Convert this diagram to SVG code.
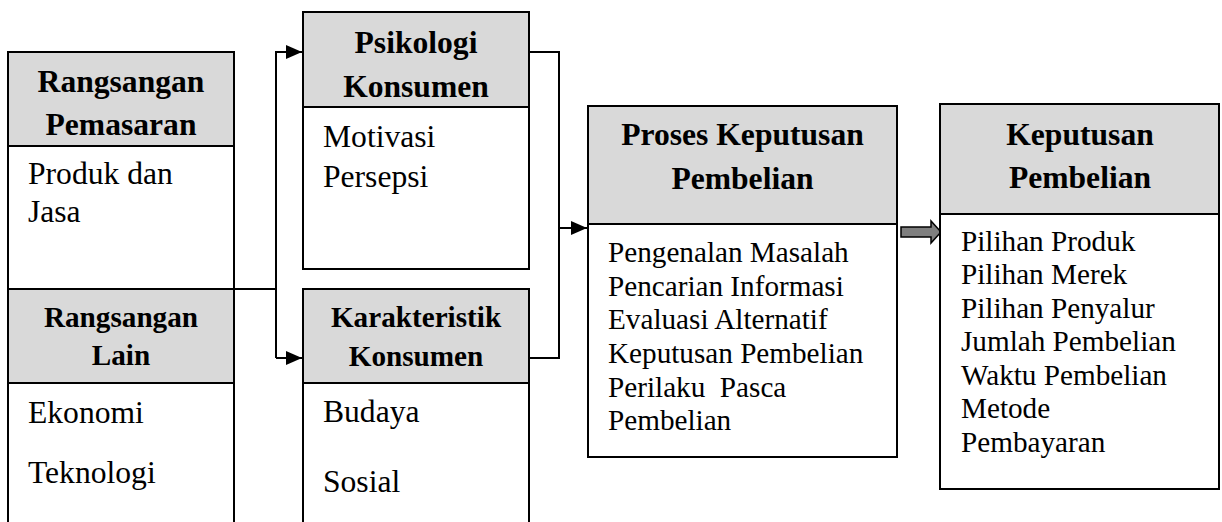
<svg xmlns="http://www.w3.org/2000/svg" width="1222" height="522" viewBox="0 0 1222 522">
<style>
.box{fill:#ffffff;stroke:#000000;stroke-width:2}
.hdr{fill:#d9d9d9;stroke:#000000;stroke-width:2}
.t{font-family:"Liberation Serif","Times New Roman",serif;fill:#000000}
.h{font-weight:bold;text-anchor:middle}
.big{font-size:31.6px}
.sm{font-size:29.2px}
.con{fill:none;stroke:#000000;stroke-width:2}
</style>
<defs>
<marker id="ah" markerUnits="userSpaceOnUse" markerWidth="16" markerHeight="14" refX="16" refY="7" orient="auto">
<path d="M0,0 L16,7 L0,14 z" fill="#000000"/>
</marker>
</defs>
<rect x="0" y="0" width="1222" height="522" fill="#ffffff"/>
<g id="connectors">
<path class="con" d="M234,289 H276"/>
<path class="con" d="M276,358 V52 H302" marker-end="url(#ah)"/>
<path class="con" d="M276,358 H302" marker-end="url(#ah)"/>
<path class="con" d="M529,52 H559 V358 H529"/>
<path class="con" d="M559,228 H587" marker-end="url(#ah)"/>
<polygon points="901,227 931,227 931,221 941,232 931,243 931,237 901,237" fill="#7f7f7f" stroke="#000000" stroke-width="1.5"/>
</g>
<g id="rangsangan-pemasaran">
<rect class="box" x="8" y="52" width="226" height="237"/>
<rect class="hdr" x="8" y="52" width="226" height="94"/>
<text class="t h big" x="121" y="92">Rangsangan</text>
<text class="t h big" x="121" y="135">Pemasaran</text>
<text class="t big" x="28" y="184">Produk dan</text>
<text class="t big" x="28" y="222">Jasa</text>
</g>
<g id="rangsangan-lain">
<rect class="box" x="8" y="289" width="226" height="250"/>
<rect class="hdr" x="8" y="289" width="226" height="94"/>
<text class="t h sm" x="121" y="327">Rangsangan</text>
<text class="t h sm" x="121" y="365">Lain</text>
<text class="t big" x="28" y="423">Ekonomi</text>
<text class="t big" x="28" y="483">Teknologi</text>
</g>
<g id="psikologi-konsumen">
<rect class="box" x="303" y="12" width="226" height="257"/>
<rect class="hdr" x="303" y="12" width="226" height="95"/>
<text class="t h big" x="416" y="53">Psikologi</text>
<text class="t h big" x="416" y="97">Konsumen</text>
<text class="t big" x="323" y="147">Motivasi</text>
<text class="t big" x="323" y="187">Persepsi</text>
</g>
<g id="karakteristik-konsumen">
<rect class="box" x="303" y="289" width="226" height="250"/>
<rect class="hdr" x="303" y="289" width="226" height="94"/>
<text class="t h sm" x="416" y="327">Karakteristik</text>
<text class="t h sm" x="416" y="366">Konsumen</text>
<text class="t big" x="323" y="422">Budaya</text>
<text class="t big" x="323" y="492">Sosial</text>
</g>
<g id="proses-keputusan-pembelian">
<rect class="box" x="588" y="106" width="309" height="351"/>
<rect class="hdr" x="588" y="106" width="309" height="118"/>
<text class="t h big" x="742.5" y="145">Proses Keputusan</text>
<text class="t h big" x="742.5" y="189">Pembelian</text>
<text class="t sm" x="608" y="262">Pengenalan Masalah</text>
<text class="t sm" x="608" y="295.5">Pencarian Informasi</text>
<text class="t sm" x="608" y="329">Evaluasi Alternatif</text>
<text class="t sm" x="608" y="363">Keputusan Pembelian</text>
<text class="t sm" x="608" y="397">Perilaku&#160; Pasca</text>
<text class="t sm" x="608" y="430">Pembelian</text>
</g>
<g id="keputusan-pembelian">
<rect class="box" x="940" y="104" width="279" height="385"/>
<rect class="hdr" x="940" y="104" width="279" height="110"/>
<text class="t h big" x="1080" y="145">Keputusan</text>
<text class="t h big" x="1080" y="188">Pembelian</text>
<text class="t sm" x="961" y="250.5">Pilihan Produk</text>
<text class="t sm" x="961" y="284">Pilihan Merek</text>
<text class="t sm" x="961" y="317.5">Pilihan Penyalur</text>
<text class="t sm" x="961" y="351">Jumlah Pembelian</text>
<text class="t sm" x="961" y="384.5">Waktu Pembelian</text>
<text class="t sm" x="961" y="418">Metode</text>
<text class="t sm" x="961" y="451.5">Pembayaran</text>
</g>
</svg>
